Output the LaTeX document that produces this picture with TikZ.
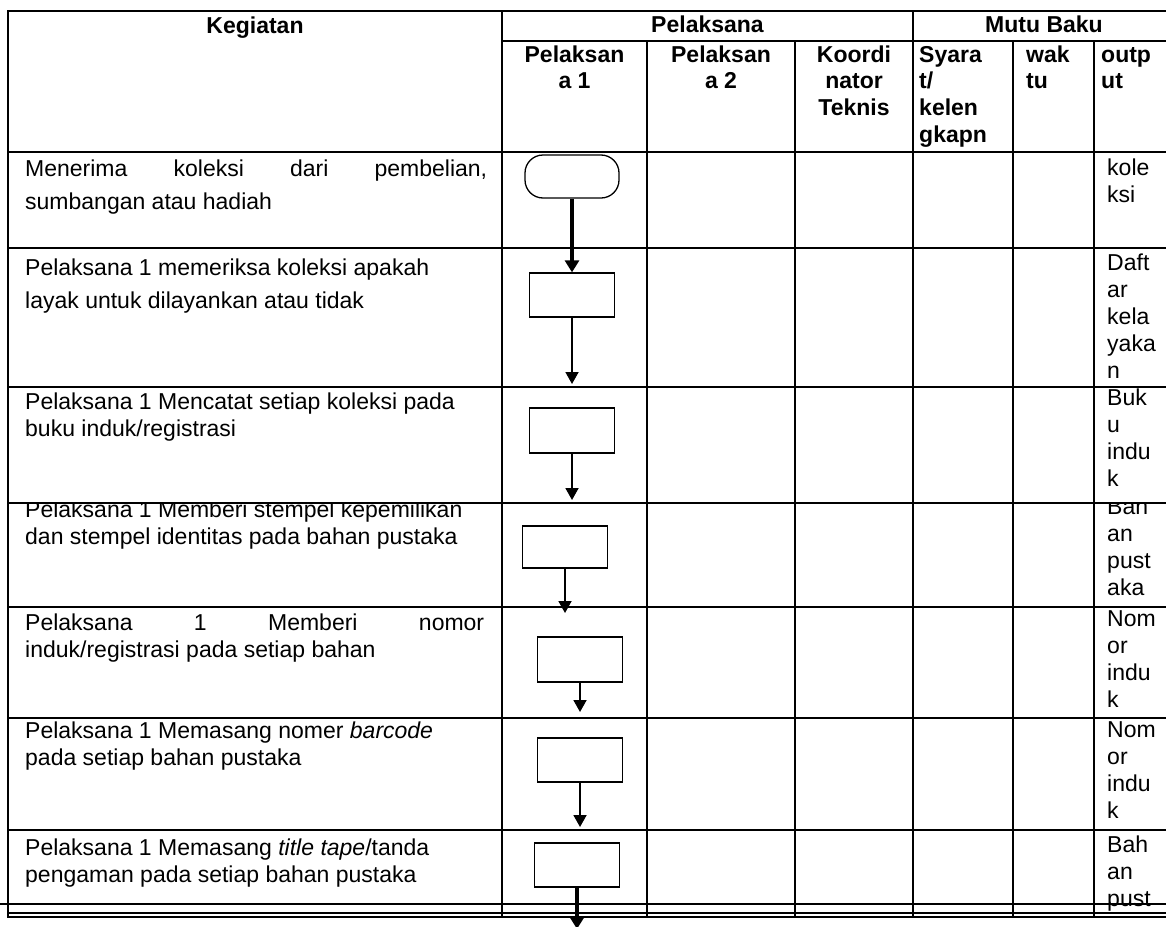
\documentclass[tikz,border=0pt]{standalone}
\usepackage{fontspec}
\setmainfont{Liberation Sans}
\usetikzlibrary{arrows.meta}

% fixed first-line height, so a cell can be placed by its first baseline
\newcommand\lntop{\rule{0pt}{20pt}}

\begin{document}
\begin{tikzpicture}[x=1pt,y=-1pt,
  grid/.style={line width=2pt, line cap=rect},
  thin grid/.style={line width=1.4pt},
  stepbox/.style={draw, line width=1.3pt, minimum width=85pt, minimum height=44pt, inner sep=0pt},
  terminal/.style={draw, line width=1.3pt, rounded corners=18pt, minimum width=94pt, minimum height=43pt, inner sep=0pt},
  flow/.style={line width=1.8pt, -{Triangle[length=12pt,width=13pt]}},
  flow thick/.style={line width=3.5pt, -{Triangle[length=12pt,width=14pt]}},
  cell/.style={inner sep=0pt, align=left, anchor=north west, font=\fontsize{23}{27}\selectfont},
  wide cell/.style={cell, font=\fontsize{23}{33}\selectfont},
  hdr/.style={inner sep=0pt, align=center, anchor=north, font=\bfseries\fontsize{23}{26.7}\selectfont},
  hdr left/.style={hdr, align=left, anchor=north west},
]
\useasboundingbox (0,0) rectangle (1166,926);
\clip (0,0) rectangle (1166,926);

% ---- header ----
\node[hdr] (hKeg) at (255,13) {\lntop Kegiatan};
\node[hdr] (hPel) at (707.5,12) {\lntop Pelaksana};
\node[hdr] (hMut) at (1044,12) {\lntop Mutu Baku};
\node[hdr] (hP1) at (574.5,42) {\lntop Pelaksan\\a 1};
\node[hdr] (hP2) at (721,42) {\lntop Pelaksan\\a 2};
\node[hdr] (hKT) at (854,42) {\lntop Koordi\\nator\\Teknis};
\node[hdr left] (hSy) at (919,42) {\lntop Syara\\t/\\kelen\\gkapn};
\node[hdr left] (hWk) at (1026,42) {\lntop wak\\tu};
\node[hdr left] (hOu) at (1101,42) {\lntop outp\\ut};

% ---- activity column ----
\node[wide cell] (k1) at (25,156) {\lntop\makebox[462pt][s]{Menerima koleksi dari pembelian,}\\sumbangan atau hadiah};
\node[wide cell] (k2) at (25,255) {\lntop Pelaksana 1 memeriksa koleksi apakah\\layak untuk dilayankan atau tidak};
\node[cell] (k3) at (25,389) {\lntop Pelaksana 1 Mencatat setiap koleksi pada\\buku induk/registrasi};
\begin{scope}
  \clip (8,503) rectangle (1176,607);
  \node[cell] (k4) at (25,497) {\lntop Pelaksana 1 Memberi stempel kepemilikan\\dan stempel identitas pada bahan pustaka};
  \node[cell] (o4) at (1107,494) {\lntop Ban\\an\\pust\\aka};
\end{scope}
\node[cell] (k5) at (25,610) {\lntop\makebox[459pt][s]{Pelaksana 1 Memberi nomor}\\induk/registrasi pada setiap bahan};
\node[cell] (k6) at (25,718) {\lntop Pelaksana 1 Memasang nomer \textit{barcode}\\pada setiap bahan pustaka};
\node[cell] (k7) at (25,835) {\lntop Pelaksana 1 Memasang \textit{title tape}/tanda\\pengaman pada setiap bahan pustaka};

% ---- output column ----
\node[cell] (o1) at (1107,155) {\lntop kole\\ksi};
\node[cell] (o2) at (1107,250) {\lntop Daft\\ar\\kela\\yaka\\n};
\node[cell] (o3) at (1107,385) {\lntop Buk\\u\\indu\\k};
\node[cell] (o5) at (1107,606) {\lntop Nom\\or\\indu\\k};
\node[cell] (o6) at (1107,717) {\lntop Nom\\or\\indu\\k};
\node[cell] (o7) at (1107,832) {\lntop Bah\\an\\pust};

% ---- table rules ----
\foreach \y in {10.7,152,248,387,503,607,718,830}
  \draw[grid] (8,\y) -- (1176,\y);
\draw[grid] (502,41) -- (1176,41);
\foreach \x in {8,502,913}
  \draw[grid] (\x,10.7) -- (\x,917);
\foreach \x in {647,795,1013,1094}
  \draw[grid] (\x,41) -- (\x,917);
\draw[thin grid] (0,904) -- (1176,904);
\draw[thin grid] (8,913) -- (1176,913);
\draw[thin grid] (8,917) -- (1176,917);

% ---- flow of the first executor ----
\node[terminal, fill=white] (t1) at (572,176.5) {};
\node[stepbox] (r2) at (572,295) {};
\node[stepbox, minimum height=45pt] (r3) at (572,430.5) {};
\node[stepbox, minimum height=42pt] (r4) at (565,547) {};
\node[stepbox, minimum height=45pt] (r5) at (580,659.5) {};
\node[stepbox] (r6) at (580,760) {};
\node[stepbox] (r7) at (577,865) {};

\coordinate (e2) at (572,384);
\coordinate (e3) at (572,500);
\coordinate (e4) at (565,613);
\coordinate (e5) at (580,712);
\coordinate (e6) at (580,827);
\coordinate (e7) at (577,929);

\draw[flow thick] (t1.south) -- (r2.north);
\draw[flow] (r2.south) -- (e2);
\draw[flow] (r3.south) -- (e3);
\draw[flow] (r4.south) -- (e4);
\draw[flow] (r5.south) -- (e5);
\draw[flow] (r6.south) -- (e6);
\draw[flow thick] (r7.south) -- (e7);
\end{tikzpicture}
\end{document}
